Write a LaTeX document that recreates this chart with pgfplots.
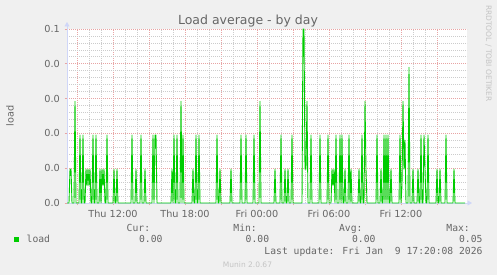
\documentclass[border=0pt]{standalone}
\usepackage{pgfplots}
\pgfplotsset{compat=1.18}
\usepackage{pgfplotstable}
\usetikzlibrary{arrows.meta}
\usepackage{fontspec}
\setmainfont{DejaVu Sans}
\newfontfamily\monofont{DejaVu Sans Mono}
\definecolor{bgcol}{HTML}{F0F0F0}
\definecolor{axcol}{HTML}{CFD6F8}
\definecolor{txtcol}{HTML}{666666}
\definecolor{loadgreen}{HTML}{00CC00}
\definecolor{mgridcol}{HTML}{E8A4A4}
\definecolor{gridcol}{HTML}{CCCCCC}
\definecolor{wmcol}{HTML}{C4C4C4}

% s = 5-minute slot since Thu 00:00, v = load
\pgfplotstableread{
s v
98 0
100 0
101 0.0195
102 0.0195
103 0
105 0
106 0.0585
107 0
110 0
111 0.039
112 0
113 0
114 0.039
115 0
116 0
117 0.0195
118 0.01
119 0.0195
120 0.01
121 0.0195
122 0
123 0
124 0.039
125 0
126 0
127 0.039
128 0
130 0
131 0.0195
132 0
133 0.0195
134 0.01
135 0.0195
136 0
137 0
138 0.039
139 0
144 0
145 0.0195
146 0
147 0
148 0.0195
149 0
162 0
163 0.039
164 0
166 0
167 0.0195
168 0
171 0
172 0.039
173 0
175 0
176 0.0195
177 0
183 0
184 0.039
185 0
186 0.039
187 0.039
188 0
202 0
203 0.0195
204 0
205 0.039
206 0
207 0
208 0.039
209 0
211 0
212 0.0585
213 0
214 0.039
215 0
223 0
224 0.0195
225 0
226 0
227 0.039
228 0
229 0
230 0.039
231 0
247 0
248 0.039
249 0
250 0
251 0.0195
252 0
261 0
262 0.0195
263 0
271 0
272 0.039
273 0
276 0
277 0.039
278 0
284 0
285 0.039
286 0
290 0
291 0.0585
292 0
305 0
306 0.0195
307 0
311 0
312 0.039
313 0
315 0
316 0.0195
317 0
318 0
319 0.0195
320 0
322 0
323 0.039
324 0
333 0
334 0.1
335 0.1
336 0.0195
337 0.0195
338 0.0585
339 0
341 0
342 0.039
343 0
350 0
351 0.039
352 0
358 0
359 0.039
360 0
362 0
363 0.0195
364 0.01
365 0.0195
366 0
367 0.039
368 0
370 0
371 0.039
372 0
373 0.039
374 0
375 0
376 0.0195
377 0
379 0
380 0.039
381 0
382 0.0195
383 0
389 0
390 0.0195
391 0
392 0
393 0.039
394 0
395 0
396 0.0585
397 0.0195
398 0
407 0
408 0.039
409 0
411 0
412 0.0195
413 0
414 0
415 0.039
416 0
417 0.039
418 0
419 0.039
420 0
421 0
422 0.0195
423 0
430 0
431 0.039
432 0
433 0.01
434 0.0585
435 0.0195
436 0.036
437 0
439 0
440 0.078
441 0
443 0
444 0.0195
445 0
448 0
449 0.0195
450 0
451 0
452 0.039
453 0
454 0
455 0.039
456 0.0195
457 0
458 0
459 0.039
460 0
467 0
468 0.0195
469 0
470 0
471 0.0195
472 0
476 0
477 0.039
478 0
484 0
485 0.0195
486 0
496 0
}\loaddata

\begin{document}
\begin{tikzpicture}
\fill[bgcol] (0bp,0bp) rectangle (497bp,275bp);
\begin{axis}[
  at={(67bp,72bp)}, anchor=south west,
  width=400bp, height=174bp, scale only axis,
  xmin=98, xmax=498, ymin=0, ymax=0.1,
  clip=false,
  axis background/.style={fill=white},
  axis lines=left,
  axis line style={draw=axcol, line width=0.9bp},
  x axis line style={-{Triangle[length=4.5bp,width=5bp]}, shorten >=-5bp},
  y axis line style={-{Triangle[length=4.5bp,width=5bp]}, shorten >=-7bp},
  xtick={108,144,180,216,252,288,324,360,396,432,468},
  xticklabels={,Thu 12:00,,Thu 18:00,,Fri 00:00,,Fri 06:00,,Fri 12:00,},
  minor x tick num=2,
  ytick={0,0.02,0.04,0.06,0.08,0.1},
  yticklabels={0.0,0.0,0.0,0.0,0.0,0.1},
  minor y tick num=4,
  grid=both,
  major grid style={draw=mgridcol, dash pattern=on 1bp off 1bp, line width=0.7bp},
  minor grid style={draw=gridcol, dash pattern=on 1bp off 1bp, line width=0.7bp},
  tick align=outside,
  major tick length=2bp, minor tick length=0bp,
  tick style={draw=mgridcol, line width=0.7bp},
  ticklabel style={font=\fontsize{9.7bp}{11bp}\selectfont, text=txtcol},
  xticklabel style={anchor=base, yshift=-13bp, inner sep=0pt},
  yticklabel style={anchor=east, xshift=-5bp, inner sep=0pt},
  ylabel={load},
  every axis y label/.style={at={(axis description cs:-0.1425,0.5)}, rotate=90, anchor=center,
    font=\fontsize{9.7bp}{11bp}\selectfont, text=txtcol},
  legend style={at={(axis description cs:-0.1325,-0.2086)}, anchor=west,
    draw=none, fill=none, inner sep=0pt, outer sep=0pt,
    font=\monofont\fontsize{9.7bp}{11bp}\selectfont, text=txtcol,
    nodes={inner sep=0pt}},
  legend cell align=left,
  legend image code/.code={%
    \fill[loadgreen, draw=none] (0bp,-2.6bp) rectangle (5.3bp,2.6bp);
    \path[draw=none, fill=none] (0bp,0bp) -- (12.7bp,0bp);},
]
\addplot[loadgreen, line width=0.9bp, line join=round] table[x=s,y=v]{\loaddata};
\addlegendentry{load}
\end{axis}
\node[anchor=base, inner sep=0pt, font=\fontsize{12.5bp}{15bp}\selectfont, text=txtcol]
  at (248bp,250.7bp) {Load average - by day};
\begin{scope}[every node/.style={anchor=base east, inner sep=0pt,
    font=\monofont\fontsize{9.7bp}{11bp}\selectfont, text=txtcol}]
\node at (150.3bp,43.1bp) {Cur:};
\node at (257bp,43.1bp) {Min:};
\node at (362.7bp,43.1bp) {Avg:};
\node at (470bp,43.1bp) {Max:};
\node at (162.7bp,32.1bp) {0.00};
\node at (269.3bp,32.1bp) {0.00};
\node at (375.7bp,32.1bp) {0.00};
\node at (482.7bp,32.1bp) {0.05};
\node at (482.7bp,20.4bp) {Last update: Fri Jan\ \ 9 17:20:08 2026};
\end{scope}
\node[anchor=base, inner sep=0pt, font=\fontsize{7.5bp}{9bp}\selectfont, text=wmcol]
  at (247.5bp,7.7bp) {Munin 2.0.67};
\node[rotate=-90, anchor=center, inner sep=0pt, font=\fontsize{7.5bp}{9bp}\selectfont, text=wmcol]
  at (488.5bp,221.5bp) {RRDTOOL / TOBI OETIKER};
\pgfresetboundingbox
\useasboundingbox (0bp,0bp) rectangle (497bp,275bp);
\end{tikzpicture}
\end{document}
